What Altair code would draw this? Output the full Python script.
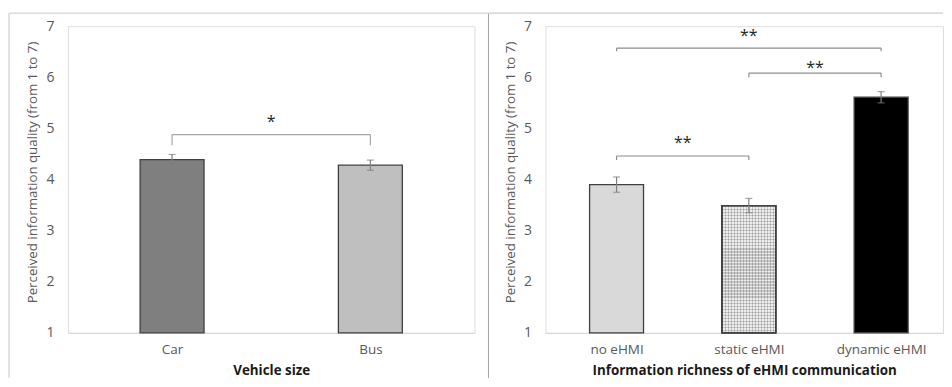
import altair as alt
import pandas as pd

FONT = "Open Sans"

# ---------------- data: left panel (vehicle size) ----------------
veh_cats = ["Car", "Bus"]
veh_means = [4.39, 4.28]
veh_errs = [0.10, 0.10]
veh_colors = ["#7f7f7f", "#bfbfbf"]
veh_br_from = [0]
veh_br_to = [1]
veh_br_y = [4.88]
veh_br_drop = [4.67]
veh_br_star = [5.18]
veh_br_label = ["*"]

# ---------------- data: right panel (eHMI) ----------------
ehmi_cats = ["no eHMI", "static eHMI", "dynamic eHMI"]
ehmi_means = [3.90, 3.49, 5.61]
ehmi_errs = [0.15, 0.14, 0.11]
ehmi_colors = ["#d9d9d9", "#ededed", "#000000"]
ehmi_br_from = [0, 1, 0]
ehmi_br_to = [1, 2, 2]
ehmi_br_y = [4.46, 6.08, 6.57]
ehmi_br_drop = [4.38, 6.00, 6.51]
ehmi_br_star = [4.78, 6.25, 6.87]
ehmi_br_label = ["**", "**", "**"]

y_ticks = [1, 2, 3, 4, 5, 6, 7]
y_title = "Perceived information quality (from 1 to 7)"


def stripes(n, horizontal):
    stops = []
    a, b = "rgba(0,0,0,0.17)", "rgba(0,0,0,0)"
    for k in range(n):
        o0, o1, o2 = k / n, (k + 0.5) / n, (k + 1) / n
        stops += [alt.GradientStop(offset=o0, color=a), alt.GradientStop(offset=o1, color=a),
                  alt.GradientStop(offset=o1, color=b), alt.GradientStop(offset=o2, color=b)]
    if horizontal:
        return alt.LinearGradient(gradient="linear", stops=stops, x1=0, x2=0, y1=0, y2=1)
    return alt.LinearGradient(gradient="linear", stops=stops, x1=0, x2=1, y1=0, y2=0)


def panel(cats, means, errs, colors, bfrom, bto, by, bdrop, bstar, blabel,
          width, dmax, bar_size, xtitle, bracket_color, left_border, border_color,
          top_end, pattern_cat=None):
    df = pd.DataFrame({
        "cat": cats,
        "pos": [i + 0.5 for i in range(len(cats))],
        "mean": means,
        "lo": [m - e for m, e in zip(means, errs)],
        "hi": [m + e for m, e in zip(means, errs)],
    })
    br = pd.DataFrame({
        "x1": [f + 0.5 for f in bfrom],
        "x2": [t + 0.5 for t in bto],
        "xm": [(f + t) / 2 + 0.5 for f, t in zip(bfrom, bto)],
        "y": by, "star": bstar, "label": blabel,
    })
    drops = pd.DataFrame({
        "x": [f + 0.5 for f in bfrom] + [t + 0.5 for t in bto],
        "y": by + by,
        "d": bdrop + bdrop,
    })
    label_arr = "[" + ",".join("'" + c + "'" for c in cats) + "]"
    xscale = alt.Scale(domain=[0, dmax], nice=False, zero=False)
    yscale = alt.Scale(domain=[1, 7], nice=False, zero=False)
    xaxis = alt.Axis(values=[i + 0.5 for i in range(len(cats))],
                     labelExpr=label_arr + "[floor(datum.value)]",
                     title=xtitle, grid=False, ticks=False, labelAngle=0,
                     domainColor="#d9d9d9", domainWidth=1.3,
                     labelFontSize=13.5, labelColor="#595959", labelPadding=10,
                     titleFontSize=13.4, titleFontWeight="bold", titleColor="#1a1a1a",
                     titlePadding=7)
    yaxis = alt.Axis(values=y_ticks, grid=False, domain=False, ticks=False,
                     labelFontSize=14, labelColor="#595959", labelPadding=14,
                     title=y_title, titleFontSize=13.3, titleFontWeight="normal",
                     titleColor="#595959", titlePadding=6, titleY=146)

    base = alt.Chart(df)
    bars = base.mark_bar(size=bar_size, stroke="#404040", strokeWidth=1.3).encode(
        x=alt.X("pos:Q", scale=xscale, axis=xaxis),
        y=alt.Y("mean:Q", scale=yscale, axis=yaxis),
        y2=alt.datum(1),
        color=alt.Color("cat:N", scale=alt.Scale(domain=cats, range=colors), legend=None),
    )
    layers = [bars]
    if pattern_cat is not None:
        for hz, n in [(False, 18), (True, 42)]:
            layers.append(
                base.transform_filter(alt.datum.cat == pattern_cat)
                .mark_bar(size=bar_size, fill=stripes(n, hz), stroke="#404040", strokeWidth=1.3)
                .encode(x="pos:Q", y="mean:Q", y2=alt.datum(1))
            )
    err = base.mark_rule(color="#7f7f7f", strokeWidth=1.2).encode(x="pos:Q", y="lo:Q", y2="hi:Q")
    cap_lo = base.mark_tick(orient="horizontal", size=7, thickness=1.2, color="#7f7f7f").encode(x="pos:Q", y="lo:Q")
    cap_hi = base.mark_tick(orient="horizontal", size=7, thickness=1.2, color="#7f7f7f").encode(x="pos:Q", y="hi:Q")
    bh = alt.Chart(br).mark_rule(color=bracket_color, strokeWidth=1.2).encode(x="x1:Q", x2="x2:Q", y="y:Q")
    bd = alt.Chart(drops).mark_rule(color=bracket_color, strokeWidth=1.2).encode(x="x:Q", y="d:Q", y2="y:Q")
    st = alt.Chart(br).mark_text(fontSize=16, color="#262626", baseline="alphabetic", dy=8).encode(
        x="xm:Q", y="star:Q", text="label:N")
    vborder = alt.Chart(df).mark_rule(color=border_color, strokeWidth=1).encode(
        x=alt.value(left_border), y=alt.value(-13), y2=alt.value(352))
    tborder = alt.Chart(df).mark_rule(color="#d9d9d9", strokeWidth=1).encode(
        x=alt.value(left_border), x2=alt.value(top_end), y=alt.value(-13))
    layers += [err, cap_lo, cap_hi, bh, bd, st, vborder, tborder]
    return alt.layer(*layers).properties(width=width, height=307)


left = panel(veh_cats, veh_means, veh_errs, veh_colors, veh_br_from, veh_br_to, veh_br_y,
             veh_br_drop, veh_br_star, veh_br_label, 407, 2, 64, "Vehicle size",
             "#a6a6a6", -59, "#d9d9d9", 421)
right = panel(ehmi_cats, ehmi_means, ehmi_errs, ehmi_colors, ehmi_br_from, ehmi_br_to, ehmi_br_y,
              ehmi_br_drop, ehmi_br_star, ehmi_br_label, 398, 2.93, 54,
              "Information richness of eHMI communication", "#8c8c8c", -57, "#a6a6a6", 398,
              pattern_cat="static eHMI")

chart = alt.hconcat(left, right, spacing=71, bounds="flush").resolve_scale(
    color="independent"
).properties(
    padding={"left": 0, "top": 4, "right": 0, "bottom": 0}
).configure_view(strokeWidth=0).configure(font=FONT)

chart.save("out.html", embed_options={"renderer": "svg", "actions": False})
